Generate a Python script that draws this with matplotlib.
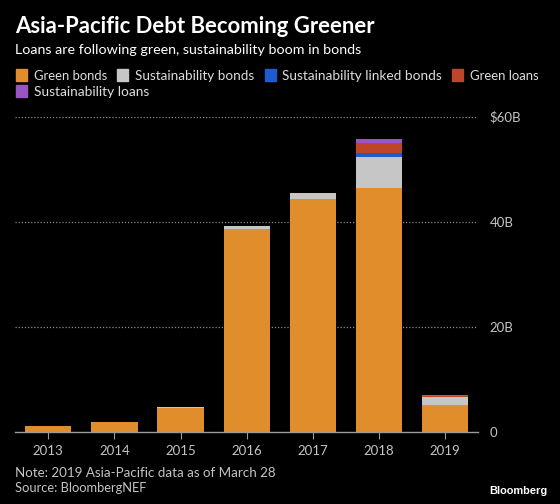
import matplotlib
matplotlib.use("Agg")
import matplotlib.pyplot as plt
from matplotlib.patches import Rectangle
import numpy as np

years = ["2013", "2014", "2015", "2016", "2017", "2018", "2019"]
green_bonds = [1.0, 1.8, 4.4, 38.6, 44.4, 46.5, 5.0]
sustainability_bonds = [0.0, 0.0, 0.2, 0.5, 1.1, 5.8, 1.5]
sustainability_linked_bonds = [0.0, 0.0, 0.0, 0.0, 0.0, 0.8, 0.0]
green_loans = [0.0, 0.0, 0.0, 0.0, 0.0, 1.9, 0.2]
sustainability_loans = [0.0, 0.0, 0.0, 0.0, 0.0, 0.8, 0.3]

series = [
    ("Green bonds", green_bonds, "#E08E2B"),
    ("Sustainability bonds", sustainability_bonds, "#C6C6C6"),
    ("Sustainability linked bonds", sustainability_linked_bonds, "#1E5BD0"),
    ("Green loans", green_loans, "#BE4528"),
    ("Sustainability loans", sustainability_loans, "#9A55C4"),
]
yticks = [0, 20, 40, 60]
ytick_labels = ["0", "20B", "40B", "$60B"]

plt.rcParams['font.family'] = ['Lato', 'DejaVu Sans']

fig = plt.figure(figsize=(5.6, 5.04), dpi=100, facecolor="black")
ax = fig.add_axes([0.027, 0.1438, 0.827, 0.6247], facecolor="black")
renderer = fig.canvas.get_renderer()


def fit_text(xp, yp, s, width_px, **kw):
    t = fig.text(xp/560, 1 - yp/504, s, ha=kw.pop("ha", "left"), va="baseline", fontsize=10, **kw)
    w = t.get_window_extent(renderer=renderer).width
    t.set_fontsize(10 * width_px / w)
    return t


x = np.arange(len(years))
bottom = np.zeros(len(years))
for name, vals, col in series:
    v = np.array(vals)
    ax.bar(x, v, bottom=bottom, width=0.7, color=col, label=name, zorder=3)
    bottom += v

ax.set_xlim(-0.5, len(years) - 0.5)
ax.set_ylim(0, 60)
ax.set_xticks(x)
ax.set_xticklabels(years, color="#C4C4C4", fontsize=9.5)
ax.yaxis.tick_right()
ax.set_yticks(yticks)
ax.set_yticklabels(ytick_labels, color="#C4C4C4", fontsize=9.5)
ax.tick_params(axis="y", length=0, pad=8)
ax.tick_params(axis="x", length=5, color="#9A9A9A", pad=5)
for yv in yticks[1:]:
    ax.axhline(yv, color="#8A8A8A", linestyle=(0, (1, 1.5)), linewidth=0.9, zorder=1)
for s in ["top", "right", "left"]:
    ax.spines[s].set_visible(False)
ax.spines["bottom"].set_color("#9A9A9A")
ax.spines["bottom"].set_linewidth(1.0)
ax.spines["bottom"].set_zorder(4)

fit_text(15, 33, "Asia-Pacific Debt Becoming Greener", 360, color="white", fontweight="bold")
fit_text(15, 54, "Loans are following green, sustainability boom in bonds", 345, color="white")

# legend (flowing layout)
scale = 1.1
rows = [[(0, 67), (1, 108), (2, 145), (3, 63)], [(4, 105)]]
for r, row in enumerate(rows):
    ly = 80 + 16 * r
    lx = 16
    for idx, tw in row:
        name, _, col = series[idx]
        fig.patches.append(Rectangle((lx/560, 1 - (ly + 1)/504), 11/560, 12/504,
                                     transform=fig.transFigure, color=col, figure=fig))
        t = fit_text(lx + 18, ly, name, tw * scale, color="#DDDDDD")
        w = t.get_window_extent(renderer=renderer).width
        lx = lx + 18 + w + 10

fit_text(15, 477, "Note: 2019 Asia-Pacific data as of March 28", 236 * scale, color="#C4C4C4")
fit_text(15, 492, "Source: BloombergNEF", 120 * scale, color="#C4C4C4")
fit_text(547, 494, "Bloomberg", 58, color="white", fontweight="bold", ha="right",
         family=["Liberation Sans", "DejaVu Sans"])

fig.savefig("out.png", dpi=100, facecolor="black")
